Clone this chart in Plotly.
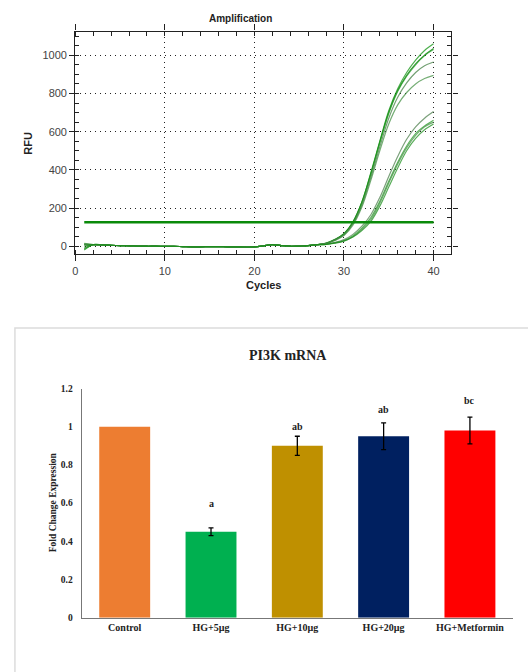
import plotly.graph_objects as go

W, H = 528, 672

# ---------------- Amplification data ----------------
cycles = list(range(1, 41))
baseline = [5, 8, 7, 5, 3, 2, 1, 0, 0, -1, -1, -2, -3, -3, -2, -2, -3, -3, -4, -3, 2, 8, 3, 0, 1, 3, 8]
start_values = [-20, 10, 15, -10, 5, 12, -15, 8, 0]
tails = [
    [15, 35, 65, 125, 230, 385, 550, 710, 825, 910, 975, 1025, 1060],
    [16, 36, 66, 128, 232, 380, 545, 700, 815, 895, 955, 1000, 1035],
    [14, 33, 62, 120, 225, 375, 540, 695, 810, 890, 950, 998, 1030],
    [15, 34, 60, 118, 215, 360, 520, 670, 780, 855, 910, 945, 965],
    [13, 30, 56, 110, 205, 345, 500, 640, 740, 805, 850, 878, 895],
    [12, 20, 35, 62, 105, 165, 255, 365, 470, 560, 625, 670, 705],
    [10, 18, 30, 55, 95, 150, 235, 340, 440, 525, 590, 630, 660],
    [10, 17, 28, 50, 88, 140, 225, 330, 430, 515, 580, 625, 650],
    [9, 16, 27, 48, 82, 130, 210, 310, 410, 500, 565, 610, 640],
]
curve_colors = ["rgba(20,150,20,0.75)", "rgba(10,130,10,0.8)", "rgba(40,160,40,0.7)",
                "rgba(70,130,70,0.75)", "rgba(60,140,60,0.7)", "rgba(80,130,80,0.75)",
                "rgba(30,150,30,0.7)", "rgba(60,140,60,0.7)", "rgba(20,140,20,0.7)"]
threshold = 125

# ---------------- Bar chart data ----------------
groups = ["Control", "HG+5µg", "HG+10µg", "HG+20µg", "HG+Metformin"]
fold_change = [1.0, 0.45, 0.90, 0.95, 0.98]
errors = [0, 0.02, 0.05, 0.07, 0.07]
bar_colors = ["#ED7D31", "#00B050", "#BF9000", "#002060", "#FF0000"]
letters = ["", "a", "ab", "ab", "bc"]
letter_y = [None, 0.60, 1.003, 1.089, 1.135]
y_tick_vals = [0, 0.2, 0.4, 0.6, 0.8, 1, 1.2]
y_tick_text = ["0", "0.2", "0.4", "0.6", "0.8", "1", "1.2"]

fig = go.Figure()

for i, tail in enumerate(tails):
    y = [start_values[i]] + baseline[1:] + tail
    fig.add_trace(go.Scatter(x=cycles, y=y, mode="lines",
                             line=dict(color=curve_colors[i], width=1.2, shape="spline"),
                             xaxis="x", yaxis="y", showlegend=False, hoverinfo="skip"))

fig.add_trace(go.Scatter(x=[cycles[0], cycles[-1]], y=[threshold, threshold], mode="lines",
                         line=dict(color="#0a8a0a", width=2.5),
                         xaxis="x", yaxis="y", showlegend=False, hoverinfo="skip"))

fig.add_trace(go.Bar(x=groups, y=fold_change, marker=dict(color=bar_colors, line=dict(width=0)),
                     xaxis="x2", yaxis="y2", showlegend=False, hoverinfo="skip"))

# error bars only where an error exists
eb_x = [g for g, e in zip(groups, errors) if e > 0]
eb_y = [v for v, e in zip(fold_change, errors) if e > 0]
eb_e = [e for e in errors if e > 0]
fig.add_trace(go.Scatter(x=eb_x, y=eb_y, mode="markers", marker=dict(size=1, opacity=0),
                         error_y=dict(type="data", array=eb_e, visible=True, color="black",
                                      thickness=1.3, width=2.5),
                         xaxis="x2", yaxis="y2", showlegend=False, hoverinfo="skip"))

sans = "Liberation Sans, Arial, sans-serif"
serif = "Liberation Serif, Times New Roman, serif"

annotations = [
    dict(text="<b>Amplification</b>", x=239 / W, y=1 - 14 / H, xref="paper", yref="paper",
         showarrow=False, font=dict(family=sans, size=10, color="#222"), xanchor="center", yanchor="middle"),
    dict(text="<b>RFU</b>", x=25 / W, y=1 - 140 / H, xref="paper", yref="paper", textangle=-90,
         showarrow=False, font=dict(family=sans, size=11, color="#222"), xanchor="center", yanchor="middle"),
    dict(text="<b>Cycles</b>", x=262 / W, y=1 - 284 / H, xref="paper", yref="paper",
         showarrow=False, font=dict(family=sans, size=11, color="#222"), xanchor="center", yanchor="middle"),
    dict(text="<b>PI3K mRNA</b>", x=287 / W, y=1 - 356 / H, xref="paper", yref="paper",
         showarrow=False, font=dict(family=serif, size=14, color="#222"), xanchor="center", yanchor="middle"),
    dict(text="<b>Fold Change Expression</b>", x=51 / W, y=1 - 505 / H, xref="paper", yref="paper",
         textangle=-90, showarrow=False, font=dict(family=serif, size=9.5, color="#222"),
         xanchor="center", yanchor="middle"),
]
for g, t, ly in zip(groups, letters, letter_y):
    if t:
        annotations.append(dict(text="<b>" + t + "</b>", x=g, y=ly, xref="x2", yref="y2", showarrow=False,
                                font=dict(family=serif, size=10, color="#222"),
                                xanchor="center", yanchor="middle"))

grid_dash = "1px,4px"

fig.update_layout(
    width=W, height=H, margin=dict(l=0, r=0, t=0, b=0),
    paper_bgcolor="white", plot_bgcolor="white",
    annotations=annotations,
    shapes=[dict(type="rect", xref="paper", yref="paper", x0=12 / W, x1=560 / W,
                 y0=-0.1, y1=1 - 328 / H, line=dict(color="#dcdcdc", width=1.5), layer="below")],
    xaxis=dict(domain=[72.7 / W, 451 / W], range=[0, 42], tickvals=[0, 10, 20, 30, 40],
               showgrid=True, gridcolor="#222", griddash=grid_dash, gridwidth=1,
               showline=True, linecolor="#222", linewidth=1.2, mirror="allticks",
               ticks="outside", ticklen=6, tickcolor="#222", zeroline=False,
               minor=dict(dtick=2, ticks="inside", ticklen=4, tickcolor="#222", showgrid=False),
               tickfont=dict(family=sans, size=11, color="#444"), anchor="y"),
    yaxis=dict(domain=[1 - 253 / H, 1 - 27 / H], range=[-42, 1124], tickvals=[0, 200, 400, 600, 800, 1000],
               showgrid=True, gridcolor="#222", griddash=grid_dash, gridwidth=1,
               showline=True, linecolor="#222", linewidth=1.2, mirror="allticks",
               ticks="outside", ticklen=5, tickcolor="#222", zeroline=False,
               minor=dict(dtick=50, ticks="inside", ticklen=4, tickcolor="#222", showgrid=False),
               tickfont=dict(family=sans, size=11, color="#444"), anchor="x"),
    xaxis2=dict(domain=[79 / W, 513 / W], range=[-0.5, 4.5], anchor="y2",
                showline=True, linecolor="#777", linewidth=1, ticks="", showgrid=False,
                tickfont=dict(family=serif, size=10, color="#222"), tickprefix="<b>", ticksuffix="</b>"),
    yaxis2=dict(domain=[1 - 622 / H, 1 - 389.3 / H], range=[0, 1.2], anchor="x2",
                tickvals=y_tick_vals, ticktext=["<b>" + t + "</b>" for t in y_tick_text],
                showline=True, linecolor="#777", linewidth=1, ticks="", showgrid=False, zeroline=False,
                tickfont=dict(family=serif, size=9.5, color="#222"),
                ticklabelstandoff=6),
    bargap=0.41,
)

fig.write_html("out.html")
